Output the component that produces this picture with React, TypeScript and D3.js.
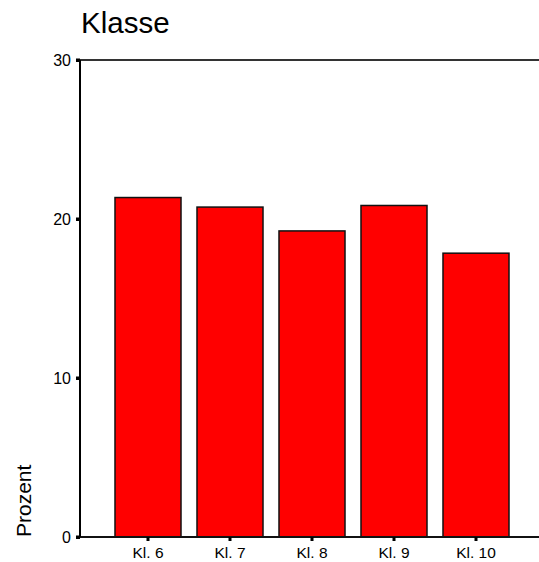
import React from "react";
import * as d3 from "d3";

const categories = ["Kl. 6", "Kl. 7", "Kl. 8", "Kl. 9", "Kl. 10"];
const values = [21.35, 20.75, 19.25, 20.85, 17.85];
const yTicks = [0, 10, 20, 30];
const title = "Klasse";
const yLabel = "Prozent";

export default function App() {
  const W = 539, H = 562;
  const x0 = 80, x1 = 539, yTop = 60, yBot = 537;
  const x = d3.scaleBand<string>().domain(categories).range([107, 517]).paddingInner(0.195).paddingOuter(0.0975);
  const y = d3.scaleLinear().domain([0, 30]).range([yBot, yTop]);
  const font = "Liberation Sans, Arial, Helvetica, sans-serif";
  return (
    <svg width={W} height={H} style={{ position: "absolute", left: 0, top: 0, background: "#fff" }} fontFamily={font}>
      <text x={81} y={33} fontSize={29.5} fill="#000">{title}</text>
      {categories.map((c, i) => (
        <rect key={c} x={x(c)!} y={y(values[i])} width={x.bandwidth()} height={y(0) - y(values[i])}
          fill="#ff0000" stroke="#111" strokeWidth={1.5} />
      ))}
      <line x1={x0} x2={x1} y1={yTop} y2={yTop} stroke="#333" strokeWidth={2} />
      <line x1={x0} x2={x1} y1={yBot} y2={yBot} stroke="#111" strokeWidth={2} />
      <line x1={x0} x2={x0} y1={yTop} y2={yBot} stroke="#000" strokeWidth={2} />
      {yTicks.map(t => (
        <g key={t}>
          <rect x={76} y={y(t) - 1.5} width={4} height={3.5} fill="#000" />
          <text x={71} y={y(t)} dy="0.35em" textAnchor="end" fontSize={16} fill="#000">{t}</text>
        </g>
      ))}
      {categories.map(c => {
        const cx = x(c)! + x.bandwidth() / 2;
        return (
          <g key={c}>
            <rect x={cx - 1.5} y={yBot} width={3} height={4} fill="#000" />
            <text x={cx} y={558} textAnchor="middle" fontSize={15.5} fill="#000">{c}</text>
          </g>
        );
      })}
      <text transform={`translate(31,537) rotate(-90)`} fontSize={21} fill="#000">{yLabel}</text>
    </svg>
  );
}
